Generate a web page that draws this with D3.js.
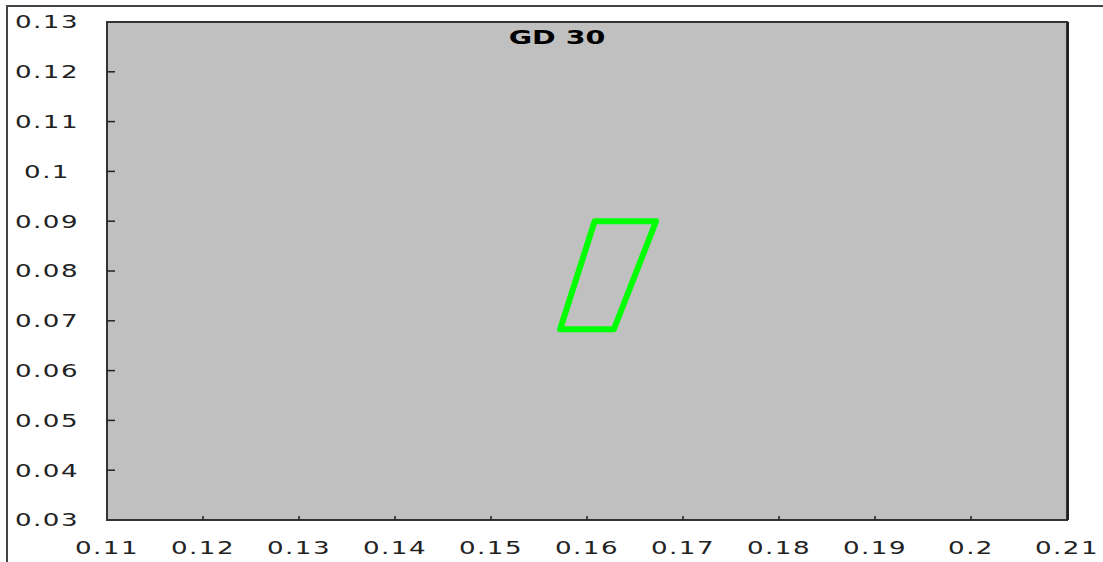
<!DOCTYPE html>
<html><head><meta charset="utf-8">
<script src="https://cdn.jsdelivr.net/npm/d3@7"></script>
<style>body{margin:0;background:#fff}svg{display:block}</style>
</head><body>
<svg id="c" width="1103" height="562"></svg>
<script>
const title = "GD 30";
const xTicks = [0.11,0.12,0.13,0.14,0.15,0.16,0.17,0.18,0.19,0.2,0.21];
const yTicks = [0.03,0.04,0.05,0.06,0.07,0.08,0.09,0.1,0.11,0.12,0.13];
const shapeX = [0.1608, 0.1672, 0.1628, 0.1572];
const shapeY = [0.0900, 0.0900, 0.0683, 0.0683];

const svg = d3.select("#c");
const L = 107, R = 1067, T = 22, B = 520;
const x = d3.scaleLinear().domain([0.11,0.21]).range([L,R]);
const y = d3.scaleLinear().domain([0.03,0.13]).range([B,T]);
const fmt = d => String(+d.toFixed(2));

// outer frame
svg.append("line").attr("x1",6).attr("x2",1103).attr("y1",6).attr("y2",6).attr("stroke","#444").attr("stroke-width",2);
svg.append("line").attr("x1",7).attr("x2",7).attr("y1",6).attr("y2",562).attr("stroke","#444").attr("stroke-width",2);

// plot area
svg.append("rect").attr("x",L).attr("y",T).attr("width",R-L).attr("height",B-T)
  .attr("fill","#c0c0c0").attr("stroke","#333").attr("stroke-width",2);
svg.append("line").attr("x1",R+1).attr("x2",R+1).attr("y1",T).attr("y2",B).attr("stroke","#222").attr("stroke-width",2);

// ticks
svg.append("g").selectAll("line").data(yTicks.slice(1,-1)).join("line")
  .attr("x1",L).attr("x2",L+8).attr("y1",d=>y(d)).attr("y2",d=>y(d)).attr("stroke","#222").attr("stroke-width",1.5);
svg.append("g").selectAll("line").data(xTicks.slice(1,-1)).join("line")
  .attr("x1",d=>x(d)).attr("x2",d=>x(d)).attr("y1",B).attr("y2",B-4).attr("stroke","#222").attr("stroke-width",1.5);

const textStyle = s => s.attr("font-family","DejaVu Sans, sans-serif").attr("font-size",18)
  .attr("fill","#222").attr("letter-spacing",1).attr("text-anchor","middle").attr("dominant-baseline","central");

svg.append("g").selectAll("text").data(yTicks).join("text")
  .attr("transform",d=>`translate(47,${y(d)}) scale(1.45,1)`).text(fmt).call(textStyle);
svg.append("g").selectAll("text").data(xTicks).join("text")
  .attr("transform",d=>`translate(${x(d)},548) scale(1.45,1)`).text(fmt).call(textStyle);

// title
svg.append("text").attr("transform","translate(557,38) scale(1.5,1)")
  .attr("font-family","DejaVu Sans, sans-serif").attr("font-weight","bold").attr("font-size",19)
  .attr("text-anchor","middle").attr("dominant-baseline","central").attr("fill","#000").text(title);

// shape
const pts = shapeX.map((v,i)=>[x(v), y(shapeY[i])]);
svg.append("path").attr("d", d3.line().curve(d3.curveLinearClosed)(pts))
  .attr("fill","none").attr("stroke","#00ff00").attr("stroke-width",6).attr("stroke-linejoin","round");
</script>
</body></html>
